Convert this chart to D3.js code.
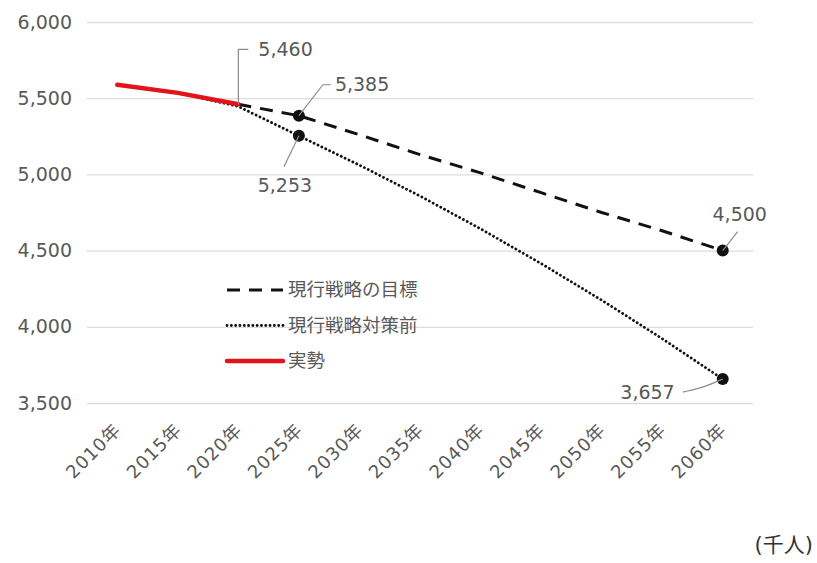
<!DOCTYPE html>
<html>
<head>
<meta charset="utf-8">
<script src="https://cdn.jsdelivr.net/npm/d3@7"></script>
<style>
  body { margin: 0; background: #fff; }
  text { font-family: "DejaVu Sans", "Noto Sans CJK JP", sans-serif; }
</style>
</head>
<body>
<svg id="chart"></svg>
<script>
// data
const years = ['2010年','2015年','2020年','2025年','2030年','2035年','2040年','2045年','2050年','2055年','2060年'];
const actual   = [5588, 5535, 5460, null, null, null, null, null, null, null, null];
const target   = [null, null, 5460, 5385, 5260, 5130, 5010, 4880, 4750, 4630, 4500];
const baseline = [null, 5535, 5446, 5253, 5061, 4858, 4643, 4415, 4175, 3922, 3657];
const yTicks = [3500, 4000, 4500, 5000, 5500, 6000];
const seriesNames = ['現行戦略の目標', '現行戦略対策前', '実勢'];
const unitLabel = '(千人)';

const width = 817, height = 563;
const margin = {top: 22, right: 64, bottom: 160, left: 87};

const svg = d3.select('#chart')
    .attr('width', width)
    .attr('height', height);

const xscale = d3.scaleBand()
    .domain(years)
    .range([margin.left, width - margin.right]);

const yscale = d3.scaleLinear()
    .domain([3500, 6000])
    .range([height - margin.bottom, margin.top]);

const cx = d => xscale(d) + xscale.bandwidth() / 2;

// grid lines
svg.append('g')
    .attr('transform', `translate(${margin.left},0)`)
    .call(d3.axisLeft(yscale).tickValues(yTicks).tickSize(-(width - margin.left - margin.right)).tickFormat(''))
    .call(g => g.select('.domain').remove())
    .call(g => g.selectAll('line').attr('stroke', '#dcdcdc').attr('stroke-width', 1.3));

// y axis labels
svg.append('g')
    .attr('transform', `translate(${margin.left},0)`)
    .call(d3.axisLeft(yscale).tickValues(yTicks).tickSize(0).tickPadding(15).tickFormat(d3.format(',')))
    .call(g => g.select('.domain').remove())
    .call(g => g.selectAll('text').attr('fill', '#595959').style('font-size', '19px'));

// x axis labels (axis already puts ticks at band centre)
svg.append('g')
    .attr('transform', `translate(0,${height - margin.bottom})`)
    .call(d3.axisBottom(xscale).tickSize(0).tickPadding(0))
    .call(g => g.select('.domain').remove())
    .call(g => g.selectAll('text')
        .attr('fill', '#595959')
        .style('font-size', '18px')
        .style('letter-spacing', '1px')
        .attr('text-anchor', 'end')
        .attr('dy', '0')
        .attr('transform', 'translate(5,28) rotate(-45)')
        .attr('x', 0).attr('y', 0));

// lines
const line = d3.line()
    .defined(d => d.v != null)
    .x(d => cx(d.year))
    .y(d => yscale(d.v));

const toPts = arr => years.map((y, i) => ({year: y, v: arr[i]}));

const dotStyle = {stroke: '#111', width: 2.8, dash: '0.1 4.2', cap: 'round'};
const dashStyle = {stroke: '#111', width: 3, dash: '13 9', cap: 'butt'};
const redStyle = {stroke: '#e3131b', width: 4.5, dash: null, cap: 'round'};

function styled(sel, s) {
    return sel.attr('fill', 'none')
        .attr('stroke', s.stroke)
        .attr('stroke-width', s.width)
        .attr('stroke-dasharray', s.dash)
        .attr('stroke-linecap', s.cap);
}

styled(svg.append('path').datum(toPts(baseline)), dotStyle).attr('d', line);
styled(svg.append('path').datum(toPts(target)), dashStyle).attr('d', line);
styled(svg.append('path').datum(toPts(actual)), redStyle).attr('d', line);

// markers
const markers = [
    {year: '2025年', v: target[3]},
    {year: '2025年', v: baseline[3]},
    {year: '2060年', v: target[10]},
    {year: '2060年', v: baseline[10]}
];
svg.append('g').selectAll('circle')
    .data(markers)
    .enter()
    .append('circle')
    .attr('cx', d => cx(d.year))
    .attr('cy', d => yscale(d.v))
    .attr('r', 6)
    .attr('fill', '#111');

// data labels with leader lines
const labels = [
    {year: '2020年', v: actual[2],    lead: [[0, -55], [10, -55]], tx: 20,  ty: -55, anchor: 'start', curve: false},
    {year: '2025年', v: target[3],    lead: [[24, -31], [32, -31]], tx: 36, ty: -31, anchor: 'start', curve: false},
    {year: '2025年', v: baseline[3],  lead: [[-15, 31]],           tx: -14, ty: 50,  anchor: 'middle', curve: false},
    {year: '2060年', v: target[10],   lead: [[15, -19]],           tx: 17,  ty: -36, anchor: 'middle', curve: false},
    {year: '2060年', v: baseline[10], lead: [[-18, 8], [-40, 13]], tx: -48, ty: 13,  anchor: 'end', curve: true}
];
const lab = svg.append('g');
labels.forEach(d => {
    const x0 = cx(d.year), y0 = yscale(d.v);
    const pts = [[x0, y0]].concat(d.lead.map(p => [x0 + p[0], y0 + p[1]]));
    lab.append('path')
        .attr('d', d.curve ? d3.line().curve(d3.curveBasis)(pts) : d3.line()(pts))
        .attr('fill', 'none')
        .attr('stroke', '#8c8c8c')
        .attr('stroke-width', 1.2);
    lab.append('text')
        .attr('x', x0 + d.tx)
        .attr('y', y0 + d.ty)
        .attr('dy', '0.35em')
        .attr('text-anchor', d.anchor)
        .attr('fill', '#595959')
        .style('font-size', '19px')
        .text(d3.format(',')(d.v));
});

// legend
const legend = svg.append('g').attr('transform', 'translate(225,290)');
const legStyles = [dashStyle, dotStyle, redStyle];
seriesNames.forEach((name, i) => {
    const gy = i * 35.5;
    styled(legend.append('line'), legStyles[i])
        .attr('x1', 2).attr('x2', 58)
        .attr('y1', gy).attr('y2', gy);
    legend.append('text')
        .attr('x', 63)
        .attr('y', gy)
        .attr('dy', '0.35em')
        .attr('fill', '#595959')
        .style('font-size', '18.5px')
        .text(name);
});

// unit
svg.append('text')
    .attr('x', 813)
    .attr('y', 545)
    .attr('dy', '0.35em')
    .attr('text-anchor', 'end')
    .attr('fill', '#333')
    .style('font-size', '21px')
    .text(unitLabel);
</script>
</body>
</html>
